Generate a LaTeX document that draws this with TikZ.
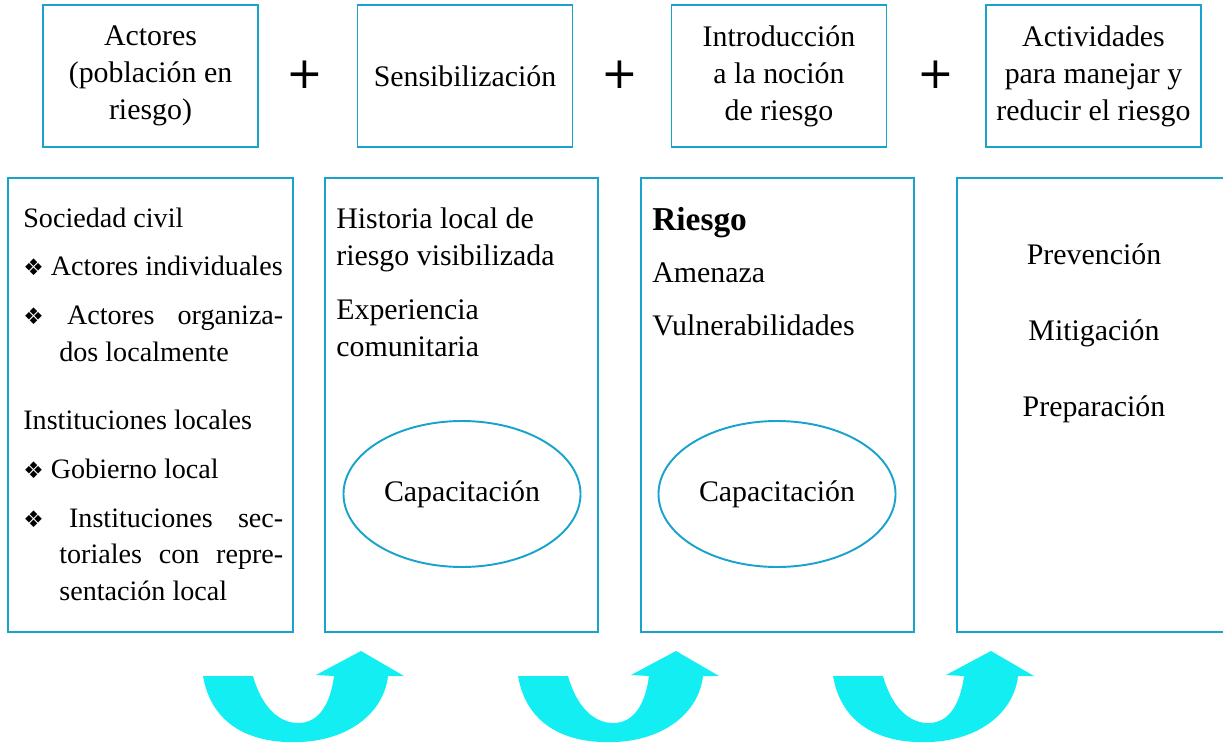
\documentclass[tikz,border=0pt]{standalone}
\usepackage{fontspec}
\setmainfont{Liberation Serif}
\newfontfamily\symfont{DejaVu Sans}
\usepackage{tikz}
\definecolor{framecyan}{RGB}{24,163,204}
\definecolor{arrowcyan}{RGB}{18,238,242}
\usetikzlibrary{shapes.geometric, positioning}
\newcommand{\diabullet}{{\symfont\fontsize{13}{13}\selectfont ❖}}

\begin{document}
\begin{tikzpicture}[
    x=0.02cm, y=-0.02cm,
    headbox/.style={rectangle, draw=framecyan, line width=1.1pt, minimum width=4.3cm, minimum height=2.84cm,
                    align=center, font=\fontsize{17}{21}\selectfont},
    panel/.style={rectangle, draw=framecyan, line width=1.1pt, minimum height=9.08cm},
    plussign/.style={font=\symfont\fontsize{25}{25}\selectfont},
    bodytxt/.style={anchor=north west, inner sep=0pt, align=left, font=\fontsize{17}{21}\selectfont},
    actortxt/.style={bodytxt, font=\fontsize{16}{21}\selectfont},
    itemtxt/.style={actortxt, text width=5.2cm, align=justify},
    capring/.style={ellipse, draw=framecyan, line width=1.1pt, minimum width=4.3cm, minimum height=2.92cm,
                    font=\fontsize{17}{21}\selectfont},
    uarrow/.style={fill=arrowcyan, draw=none}
]
    \useasboundingbox (0,0) rectangle (1223,743);

    % Headings
    \node[headbox] (actores) at (150.5,76) {Actores\\(población en\\riesgo)};
    \node[headbox] (sensib) at (465,76) {Sensibilización};
    \node[headbox] (nocion) at (779,76) {Introducción\\a la noción\\de riesgo};
    \node[headbox] (activ) at (1093.5,76) {Actividades\\para manejar y\\reducir el riesgo};

    \node[plussign] (plusa) at (305,75) {+};
    \node[plussign] (plusb) at (620,75) {+};
    \node[plussign] (plusc) at (936,75) {+};

    % Panels
    \node[panel, minimum width=5.7cm] (actpanel) at (150.5,405) {};
    \node[panel, minimum width=5.46cm] (senspanel) at (461.5,405) {};
    \node[panel, minimum width=5.46cm] (riskpanel) at (777.5,405) {};
    \node[panel, minimum width=5.46cm] (actvpanel) at (1093.5,405) {};

    % Actors
    \node[actortxt] (civil) at (23,201) {\strut Sociedad civil\strut};
    \node[itemtxt, below=0.22cm of civil.south west, anchor=north west] (indiv)
        {\hangindent=0.72cm\hangafter=1\strut\diabullet\ Actores individuales\strut\par};
    \node[itemtxt, below=0.22cm of indiv.south west, anchor=north west] (organiz)
        {\hangindent=0.72cm\hangafter=1\strut\diabullet\ Actores organiza-\linebreak dos localmente\strut\par};
    \node[actortxt, below=0.62cm of organiz.south west, anchor=north west] (instit) {\strut Instituciones locales\strut};
    \node[itemtxt, below=0.22cm of instit.south west, anchor=north west] (gobierno)
        {\hangindent=0.72cm\hangafter=1\strut\diabullet\ Gobierno local\strut\par};
    \node[itemtxt, below=0.22cm of gobierno.south west, anchor=north west] (sector)
        {\hangindent=0.72cm\hangafter=1\strut\diabullet\ Instituciones sec-\linebreak toriales con repre-\linebreak sentación local\strut\par};

    % Awareness
    \node[bodytxt] (historia) at (336,202) {\strut Historia local de\\riesgo visibilizada\strut};
    \node[bodytxt, below=0.34cm of historia.south west, anchor=north west] (experiencia) {\strut Experiencia\\comunitaria\strut};
    \node[capring] (capsens) at (462,494) {Capacitación};

    % Risk notion
    \node[bodytxt, font=\fontsize{19}{21}\selectfont\bfseries] (riesgo) at (652,204) {\strut Riesgo};
    \node[bodytxt, below=0.3cm of riesgo.south west, anchor=north west] (amenaza) {\strut Amenaza};
    \node[bodytxt, below=0.3cm of amenaza.south west, anchor=north west] (vulner) {\strut Vulnerabilidades};
    \node[capring] (caprisk) at (777,494) {Capacitación};

    % Activities
    \node[bodytxt, anchor=base] (prevencion) at (1094,264) {Prevención};
    \node[bodytxt, anchor=base] (mitigacion) at (1094,340) {Mitigación};
    \node[bodytxt, anchor=base] (preparacion) at (1094,416) {Preparación};

    % Turning arrows
    \foreach \ax in {0,315,630} {
        \begin{scope}[shift={(\ax,0)}]
            \fill[uarrow] (203,676) .. controls (212,728) and (255,744) .. (300,742)
                .. controls (350,740) and (384,712) .. (388,676)
                -- (404,676) -- (361,651) -- (316,675) -- (334,676)
                .. controls (330,706) and (318,722) .. (300,723)
                .. controls (280,724) and (262,708) .. (253,676) -- cycle;
        \end{scope}
    }
\end{tikzpicture}
\end{document}
